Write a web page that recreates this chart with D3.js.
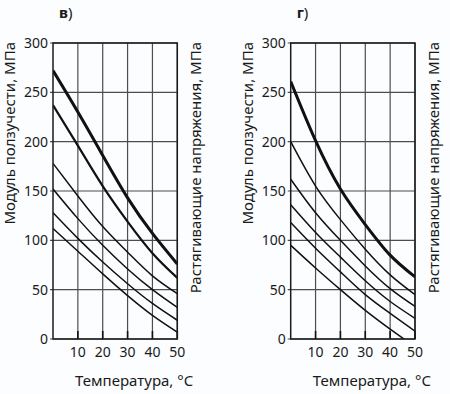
<!DOCTYPE html>
<meta charset="utf-8">
<style>
  body { margin: 0; background: #fbfdfe; }
  svg { display: block; }
  text { font-family: "Noto Sans", sans-serif; fill: #1a1a1a; }
  .grid line { stroke: #4d4d4d; stroke-width: 1.2px; }
  .frame { fill: none; stroke: #1a1a1a; stroke-width: 1.5px; }
  .curve { fill: none; stroke: #111; }
  .tick-label { font-size: 14px; }
  .axis-title { font-size: 15px; }
</style>
<body>
<script src="https://cdnjs.cloudflare.com/ajax/libs/d3/7.8.5/d3.min.js"></script>
<script>
// temperature points, °C
var temps = [0, 10, 20, 30, 40, 50];
var xTicks = [10, 20, 30, 40, 50];
var yTicks = [0, 50, 100, 150, 200, 250, 300];

// panel "в" curves, MPa
var curvesV = [
  [272, 230, 186, 143, 107, 76],
  [237, 196, 155, 119, 87, 62],
  [178, 145, 114, 88, 64, 46],
  [152, 122, 95, 71, 50, 32],
  [128, 102, 78, 56, 36, 19],
  [112, 89, 66, 44, 24, 7]
];

// panel "г" curves, MPa
var curvesG = [
  [261, 201, 152, 116, 85, 63],
  [200, 155, 121, 91, 65, 45],
  [162, 128, 100, 74, 51, 33],
  [136, 108, 83, 59, 38, 21],
  [118, 92, 68, 45, 26, 8],
  [95, 72, 50, 29, 10, -8]
];

var width = 450, height = 394;

var svg = d3.select("body").append("svg")
    .attr("width", width)
    .attr("height", height);

function panel(opts) {
  var x = d3.scaleLinear().domain([0, 50]).range([opts.left, opts.right]);
  var y = d3.scaleLinear().domain([0, 300]).range([339, 43]);
  var g = svg.append("g");

  // grid
  var grid = g.append("g").attr("class", "grid");
  grid.selectAll("line.v").data(xTicks).enter().append("line")
      .attr("x1", function(d) { return x(d); })
      .attr("x2", function(d) { return x(d); })
      .attr("y1", y(300)).attr("y2", y(0));
  grid.selectAll("line.h").data(yTicks).enter().append("line")
      .attr("x1", x(0) - 3).attr("x2", x(50))
      .attr("y1", function(d) { return y(d); })
      .attr("y2", function(d) { return y(d); });

  // inner ticks at the bottom
  g.selectAll("line.tk").data(xTicks).enter().append("line")
      .attr("x1", function(d) { return x(d); })
      .attr("x2", function(d) { return x(d); })
      .attr("y1", y(0)).attr("y2", y(0) - 8)
      .attr("stroke", "#111").attr("stroke-width", 1.6);

  // curves
  var clipId = "clip-" + opts.name;
  g.append("clipPath").attr("id", clipId).append("rect")
      .attr("x", x(0)).attr("y", y(300))
      .attr("width", x(50) - x(0)).attr("height", y(0) - y(300));

  var line = d3.line()
      .x(function(d, i) { return x(temps[i]); })
      .y(function(d) { return y(d); })
      .curve(d3.curveNatural);

  g.append("g").attr("clip-path", "url(#" + clipId + ")")
    .selectAll("path").data(opts.curves).enter().append("path")
      .attr("class", "curve")
      .attr("stroke-width", function(d, i) { return opts.widths[i]; })
      .attr("d", line);

  g.append("rect").attr("class", "frame")
      .attr("x", x(0)).attr("y", y(300))
      .attr("width", x(50) - x(0)).attr("height", y(0) - y(300));

  // tick labels
  g.selectAll("text.yl").data(yTicks).enter().append("text")
      .attr("class", "tick-label")
      .attr("x", x(0) - 5)
      .attr("y", function(d) { return y(d) + 5; })
      .attr("text-anchor", "end")
      .text(function(d) { return d; });
  g.selectAll("text.xl").data(xTicks).enter().append("text")
      .attr("class", "tick-label")
      .attr("x", function(d) { return x(d); })
      .attr("y", 357)
      .attr("text-anchor", "middle")
      .text(function(d) { return d; });

  // titles
  g.append("text").attr("class", "axis-title")
      .attr("x", (x(0) + x(50)) / 2 + 19).attr("y", 386)
      .attr("text-anchor", "middle")
      .text("Температура, °C");
  g.append("text").attr("class", "axis-title")
      .attr("transform", "translate(" + (opts.left - 38) + ",42) rotate(-90)")
      .attr("text-anchor", "end")
      .text("Модуль ползучести, МПа");
  g.append("text").attr("class", "axis-title")
      .attr("transform", "translate(" + (opts.right + 24) + ",42) rotate(-90)")
      .attr("text-anchor", "end")
      .text("Растягивающие напряжения, МПа");

  var t = g.append("text").attr("x", opts.left + 6).attr("y", 18)
      .style("font-size", "15px");
  t.append("tspan").style("font-weight", "bold").text(opts.label);
  t.append("tspan").text(")");
}

panel({name: "v", label: "в", left: 53, right: 177.3, curves: curvesV,
       widths: [3, 2.2, 1.5, 1.5, 1.5, 1.5]});
panel({name: "g", label: "г", left: 290.7, right: 415, curves: curvesG,
       widths: [3, 1.5, 1.5, 1.5, 1.5, 1.5]});
</script>
</body>
